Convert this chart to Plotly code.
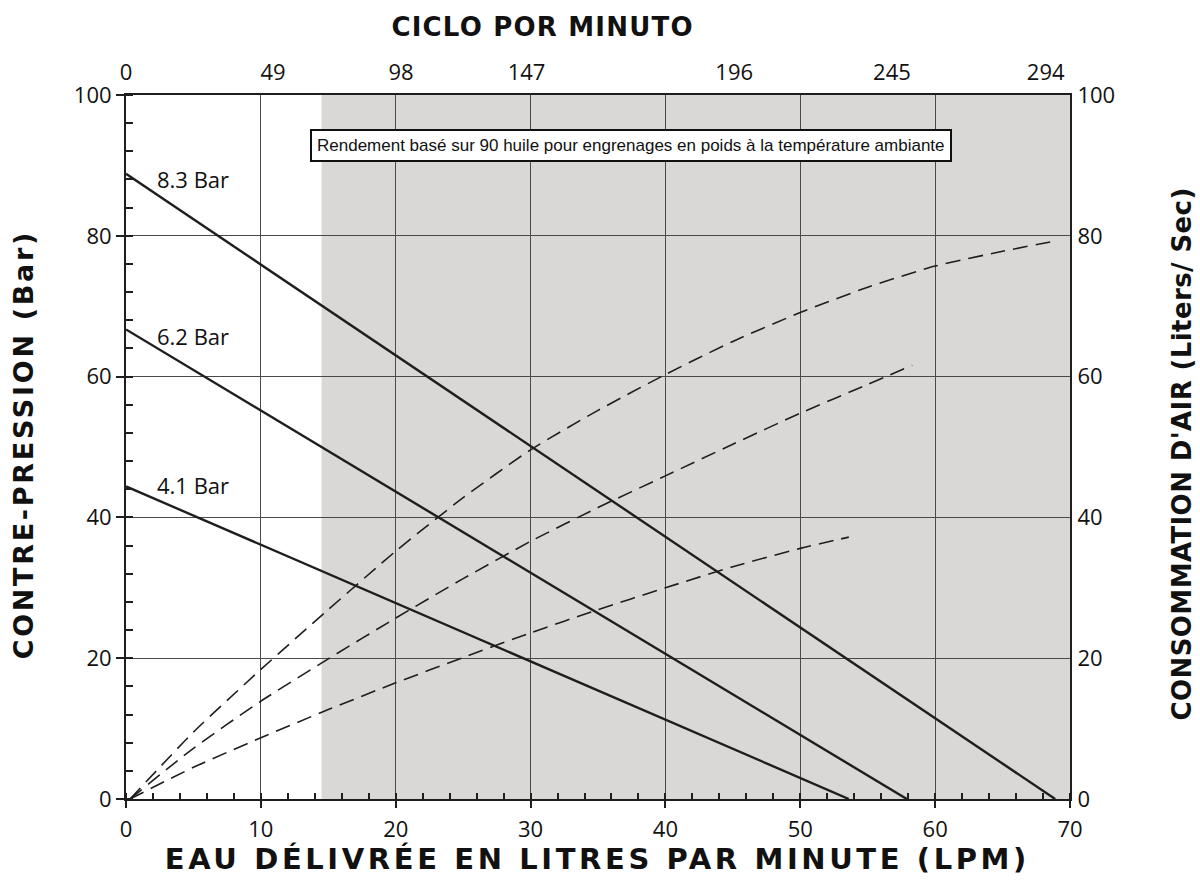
import plotly.graph_objects as go

# ---------------- data ----------------
# Back-pressure (solid) lines: water delivered (LPM) vs back pressure (Bar)
p83_x = [0, 68.9]
p83_y = [88.8, 0]
p62_x = [0, 57.9]
p62_y = [66.7, 0]
p41_x = [0, 53.6]
p41_y = [44.4, 0]

# Air consumption (dashed) curves: water delivered (LPM) vs air (Liters/Sec)
air83_x = [0.3, 5, 10, 15, 20, 25, 30, 35, 40, 45, 50, 55, 60, 65, 69]
air83_y = [0, 9.5, 18.4, 26.9, 35.2, 42.8, 49.6, 55.2, 60.3, 65.0, 69.1, 72.7, 75.7, 77.8, 79.3]
air62_x = [0.3, 5, 10, 15, 20, 25, 30, 35, 40, 45, 50, 55, 58.3]
air62_y = [0, 7.2, 13.9, 19.9, 25.7, 31.3, 36.6, 41.4, 45.9, 50.4, 54.8, 58.9, 61.6]
air41_x = [0.3, 5, 10, 15, 20, 25, 30, 35, 40, 45, 50, 53.6]
air41_y = [0, 4.5, 8.7, 12.7, 16.5, 20.1, 23.6, 26.9, 30.0, 33.0, 35.6, 37.2]

series_labels = ["8.3 Bar", "6.2 Bar", "4.1 Bar"]
label_y = [88.0, 65.8, 44.6]

x_ticks = [0, 10, 20, 30, 40, 50, 60, 70]
y_ticks = [0, 20, 40, 60, 80, 100]
top_tick_labels = ["0", "49", "98", "147", "196", "245", "294"]
top_tick_pos = [0, 10.9, 20.4, 29.7, 45.1, 56.8, 68.2]

SHADE_START = 14.5
NOTE = "Rendement basé sur 90 huile pour engrenages en poids à la température ambiante"

# ---------------- figure ----------------
W, H = 1200, 888
L, R, T, B = 126, 130, 95, 89
PW, PH = W - L - R, H - T - B
FONT = "Open Sans"
TFONT = "DejaVu Sans"
DARK = "#1e1e1e"
GRID = "#4a4a4a"


def px(xp):
    return (xp - L) / PW


def py(yp):
    return (H - B - yp) / PH


fig = go.Figure()

for xs, ys in [(p83_x, p83_y), (p62_x, p62_y), (p41_x, p41_y)]:
    fig.add_trace(go.Scatter(x=xs, y=ys, mode="lines",
                             line=dict(color=DARK, width=2.4),
                             showlegend=False, hoverinfo="skip"))

for xs, ys in [(air83_x, air83_y), (air62_x, air62_y), (air41_x, air41_y)]:
    fig.add_trace(go.Scatter(x=xs, y=ys, mode="lines", yaxis="y2",
                             line=dict(color=DARK, width=1.6, dash="15px,8px",
                                       shape="spline", smoothing=0.6),
                             showlegend=False, hoverinfo="skip"))

# invisible trace to activate top axis
fig.add_trace(go.Scatter(x=[0, 70], y=[0, 0], xaxis="x2", mode="lines",
                         line=dict(width=0), showlegend=False, hoverinfo="skip"))

fig.add_shape(type="rect", xref="x", yref="y", x0=SHADE_START, x1=70, y0=0, y1=100,
              fillcolor="#d9d8d7", line=dict(width=0), layer="below")

# annotations 0-2: series labels
for lab, ly in zip(series_labels, label_y):
    fig.add_annotation(x=5, y=ly, xref="x", yref="y", text=lab, showarrow=False,
                       font=dict(family=FONT, size=22, color="#111"), xanchor="center", yanchor="middle")

# annotation 3: note box
fig.add_annotation(x=px(631), y=py(146), xref="paper", yref="paper", text=NOTE, showarrow=False,
                   xanchor="center", yanchor="middle",
                   font=dict(family="Liberation Sans", size=17, color="#111"),
                   bgcolor="white", bordercolor="#111", borderwidth=2, borderpad=5)

# annotations 4-7: axis titles
fig.add_annotation(x=px(597), y=py(859), xref="paper", yref="paper", showarrow=False,
                   xanchor="center", yanchor="middle",
                   text="<b>EAU DÉLIVRÉE EN LITRES PAR MINUTE (LPM)</b>",
                   font=dict(family=TFONT, size=29, color="#111"))
fig.add_annotation(x=px(542), y=py(27), xref="paper", yref="paper", showarrow=False,
                   xanchor="center", yanchor="middle",
                   text="<b>CICLO POR MINUTO</b>",
                   font=dict(family=TFONT, size=26, color="#111"))
fig.add_annotation(x=px(23), y=py(445), xref="paper", yref="paper", showarrow=False,
                   xanchor="center", yanchor="middle", textangle=-90,
                   text="<b>CONTRE-PRESSION (Bar)</b>",
                   font=dict(family=TFONT, size=27, color="#111"))
fig.add_annotation(x=px(1182), y=py(454), xref="paper", yref="paper", showarrow=False,
                   xanchor="center", yanchor="middle", textangle=-90,
                   text="<b>CONSOMMATION D'AIR (Liters/ Sec)</b>",
                   font=dict(family=TFONT, size=26, color="#111"))

tickfont = dict(family=FONT, size=22, color="#111")

fig.update_layout(
    width=W, height=H,
    margin=dict(l=L, r=R, t=T, b=B),
    paper_bgcolor="white", plot_bgcolor="white",
    xaxis=dict(range=[0, 70], tickvals=x_ticks, showgrid=True, gridcolor=GRID, gridwidth=1.3,
               showline=True, linecolor=DARK, linewidth=2, ticks="outside", ticklen=7,
               tickcolor=DARK, tickwidth=1.5, tickfont=tickfont, zeroline=False,
               ticklabelstandoff=3,
               minor=dict(dtick=2, ticks="inside", ticklen=6, tickcolor=DARK, tickwidth=1.5, showgrid=False)),
    xaxis2=dict(range=[0, 70], overlaying="x", side="top", tickvals=top_tick_pos,
                ticktext=top_tick_labels, showgrid=False, showline=True, linecolor=DARK,
                linewidth=2, ticks="", tickfont=tickfont, zeroline=False, ticklabelstandoff=4),
    yaxis=dict(range=[0, 100], tickvals=y_ticks, showgrid=True, gridcolor=GRID, gridwidth=1.3,
               showline=True, linecolor=DARK, linewidth=2, ticks="outside", ticklen=8,
               tickcolor=DARK, tickwidth=1.5, tickfont=tickfont, zeroline=False,
               minor=dict(dtick=4, ticks="inside", ticklen=7, tickcolor=DARK, tickwidth=1.5, showgrid=False)),
    yaxis2=dict(range=[0, 100], overlaying="y", side="right", tickvals=y_ticks, showgrid=False,
                showline=True, linecolor=DARK, linewidth=2, ticks="", tickfont=tickfont,
                zeroline=False, ticklabelstandoff=1),
)

post = """
document.body.style.margin='0';
var gd = document.getElementById('{plot_id}');
var spacing = {"4": "3.6px", "5": "1.2px", "6": "2.7px", "7": "0.4px"};
function applyLS() {
  gd.querySelectorAll('g.annotation').forEach(function (g) {
    var i = g.getAttribute('data-index');
    if (spacing[i] !== undefined) {
      var t = g.querySelector('text.annotation-text');
      if (t) { t.style.letterSpacing = spacing[i]; }
    }
  });
}
applyLS();
setTimeout(applyLS, 30);
if (gd.on) { gd.on('plotly_afterplot', applyLS); }
"""

fig.write_html("out.html", post_script=post, config={"displayModeBar": False})
